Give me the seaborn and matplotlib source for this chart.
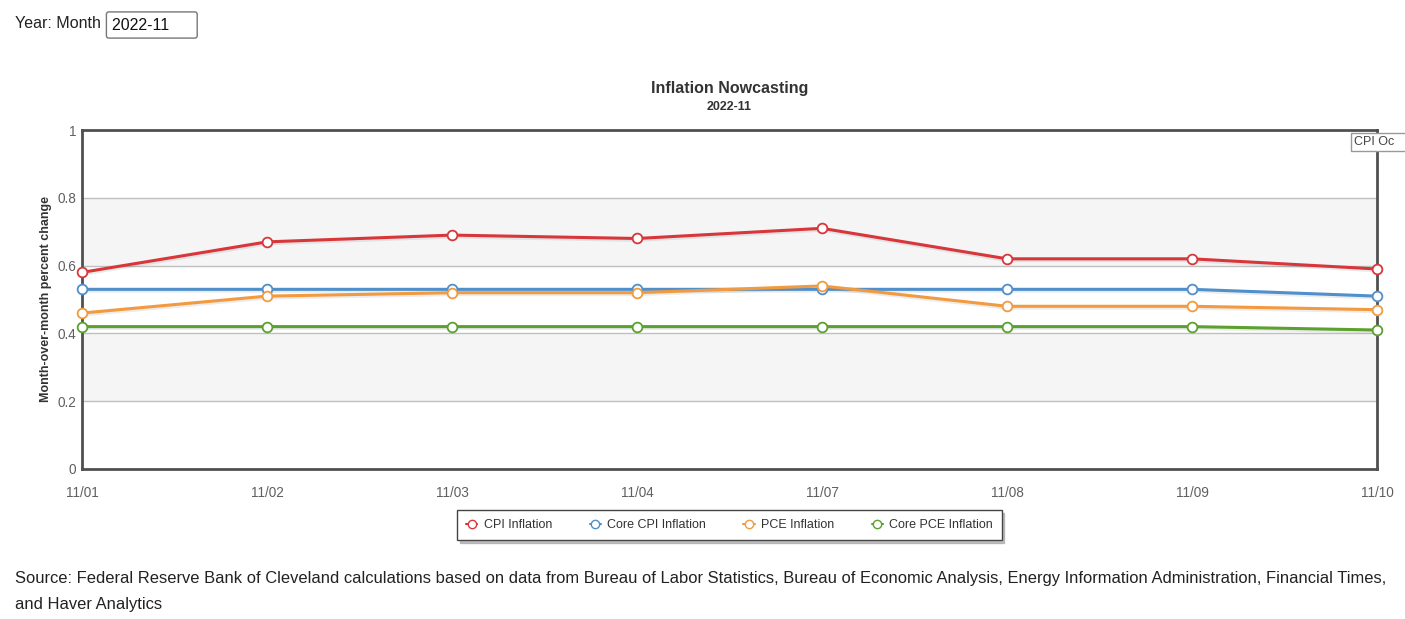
import pandas as pd
import seaborn as sns
import matplotlib.pyplot as plt
from matplotlib.lines import Line2D

# values
dates = ['11/01', '11/02', '11/03', '11/04', '11/07', '11/08', '11/09', '11/10']
cpi = [0.58, 0.67, 0.69, 0.68, 0.71, 0.62, 0.62, 0.59]
core_cpi = [0.53, 0.53, 0.53, 0.53, 0.53, 0.53, 0.53, 0.51]
pce = [0.46, 0.51, 0.52, 0.52, 0.54, 0.48, 0.48, 0.47]
core_pce = [0.42, 0.42, 0.42, 0.42, 0.42, 0.42, 0.42, 0.41]
series_names = ['CPI Inflation', 'Core CPI Inflation', 'PCE Inflation', 'Core PCE Inflation']
colors = ['#d7373b', '#4f8fcb', '#f29a3f', '#5ba12f']
y_ticks = [0, 0.2, 0.4, 0.6, 0.8, 1]
y_labels = ['0', '0.2', '0.4', '0.6', '0.8', '1']

rows = []
for name, vals in zip(series_names, [cpi, core_cpi, pce, core_pce]):
    for i, (d, v) in enumerate(zip(dates, vals)):
        rows.append({'pos': i, 'date': d, 'series': name, 'value': v})
df = pd.DataFrame(rows)

sns.set_theme(style='white')
plt.rcParams['font.family'] = ['Liberation Sans', 'DejaVu Sans']

fig = plt.figure(figsize=(14.05, 6.19), dpi=100)
ax = fig.add_axes([82 / 1405, 1 - 469 / 619, (1377 - 82) / 1405, (469 - 130) / 619])

# alternating bands
for lo, hi in [(0.2, 0.4), (0.6, 0.8)]:
    ax.axhspan(lo, hi, color='#f5f5f5', zorder=0)
for t in [0.2, 0.4, 0.6, 0.8]:
    ax.axhline(t, color='#c0c0c0', lw=1, zorder=1)

palette = dict(zip(series_names, colors))
# faint shadow under lines
for name in series_names:
    sub = df[df['series'] == name]
    ax.plot(sub['pos'] + 0.004, sub['value'] - 0.004, color='#000000', alpha=0.08, lw=3, zorder=2)

sns.lineplot(data=df, x='pos', y='value', hue='series', palette=palette, lw=2.2,
             marker='o', markersize=7, markerfacecolor='white', markeredgewidth=1.3,
             legend=False, ax=ax, zorder=3, clip_on=False)
# marker edges in series colour
for line, c in zip(ax.get_lines()[-4:], colors):
    line.set_markeredgecolor(c)

ax.set_xlim(0, len(dates) - 1)
ax.set_ylim(0, 1)
ax.set_xticks(range(len(dates)))
ax.set_xticklabels(dates)
ax.set_yticks(y_ticks)
ax.set_yticklabels(y_labels)
ax.tick_params(axis='both', labelsize=9.8, colors='#606060', length=0)
ax.tick_params(axis='x', pad=12)
ax.tick_params(axis='y', pad=4)
ax.set_xlabel('')
ax.set_ylabel('Month-over-month percent change', fontsize=9, fontweight='bold', color='#333333')
ax.yaxis.set_label_coords(-30 / 1295, 0.5)
for s in ax.spines.values():
    s.set_color('#505050')
    s.set_linewidth(2)

fig.text(729.5 / 1405, 1 - 89 / 619, 'Inflation Nowcasting', ha='center', va='center',
         fontsize=11.5, fontweight='bold', color='#333333')
fig.text(729.5 / 1405, 1 - 107 / 619, '2022-11', ha='center', va='center',
         fontsize=9, fontweight='bold', color='#333333')

# tooltip box cut off at right edge
fig.text(1354 / 1405, 1 - 142 / 619, 'CPI Oc   ', ha='left', va='center', fontsize=9, color='#444444',
         bbox=dict(boxstyle='square,pad=0.25', fc='white', ec='#999999', lw=1))

handles = [Line2D([0], [0], color=c, lw=1.5, marker='o', markersize=6, markerfacecolor='white',
                  markeredgecolor=c) for c in colors]
leg = fig.legend(handles, series_names, loc='center', bbox_to_anchor=(729.5 / 1405, 1 - 525 / 619),
                 ncol=4, fontsize=9, frameon=True, fancybox=False, handlelength=0.9,
                 shadow={'color': '#999999', 'alpha': 0.6},
                 columnspacing=3, handletextpad=0.5, borderpad=0.7)
leg.get_frame().set_edgecolor('#444444')
leg.get_frame().set_linewidth(1)
for t in leg.get_texts():
    t.set_color('#333333')

# top selector
fig.text(15 / 1405, 1 - 24 / 619, 'Year: Month', ha='left', va='center', fontsize=11.5, color='#222222')
fig.text(112 / 1405, 1 - 25 / 619, '2022-11     ', ha='left', va='center', fontsize=11.5, color='#111111',
         bbox=dict(boxstyle='round,pad=0.35,rounding_size=0.15', fc='white', ec='#777777', lw=1))
fig.add_artist(Line2D([177 / 1405, 182 / 1405, 187 / 1405], [1 - 22 / 619, 1 - 27 / 619, 1 - 22 / 619],
                      color='#111111', lw=1.6))

fig.text(15 / 1405, 1 - 579 / 619,
         'Source: Federal Reserve Bank of Cleveland calculations based on data from Bureau of Labor Statistics, '
         'Bureau of Economic Analysis, Energy Information Administration, Financial Times,',
         ha='left', va='center', fontsize=11.9, color='#222222')
fig.text(15 / 1405, 1 - 605 / 619, 'and Haver Analytics', ha='left', va='center', fontsize=11.9, color='#222222')

fig.savefig('out.png', dpi=100)
